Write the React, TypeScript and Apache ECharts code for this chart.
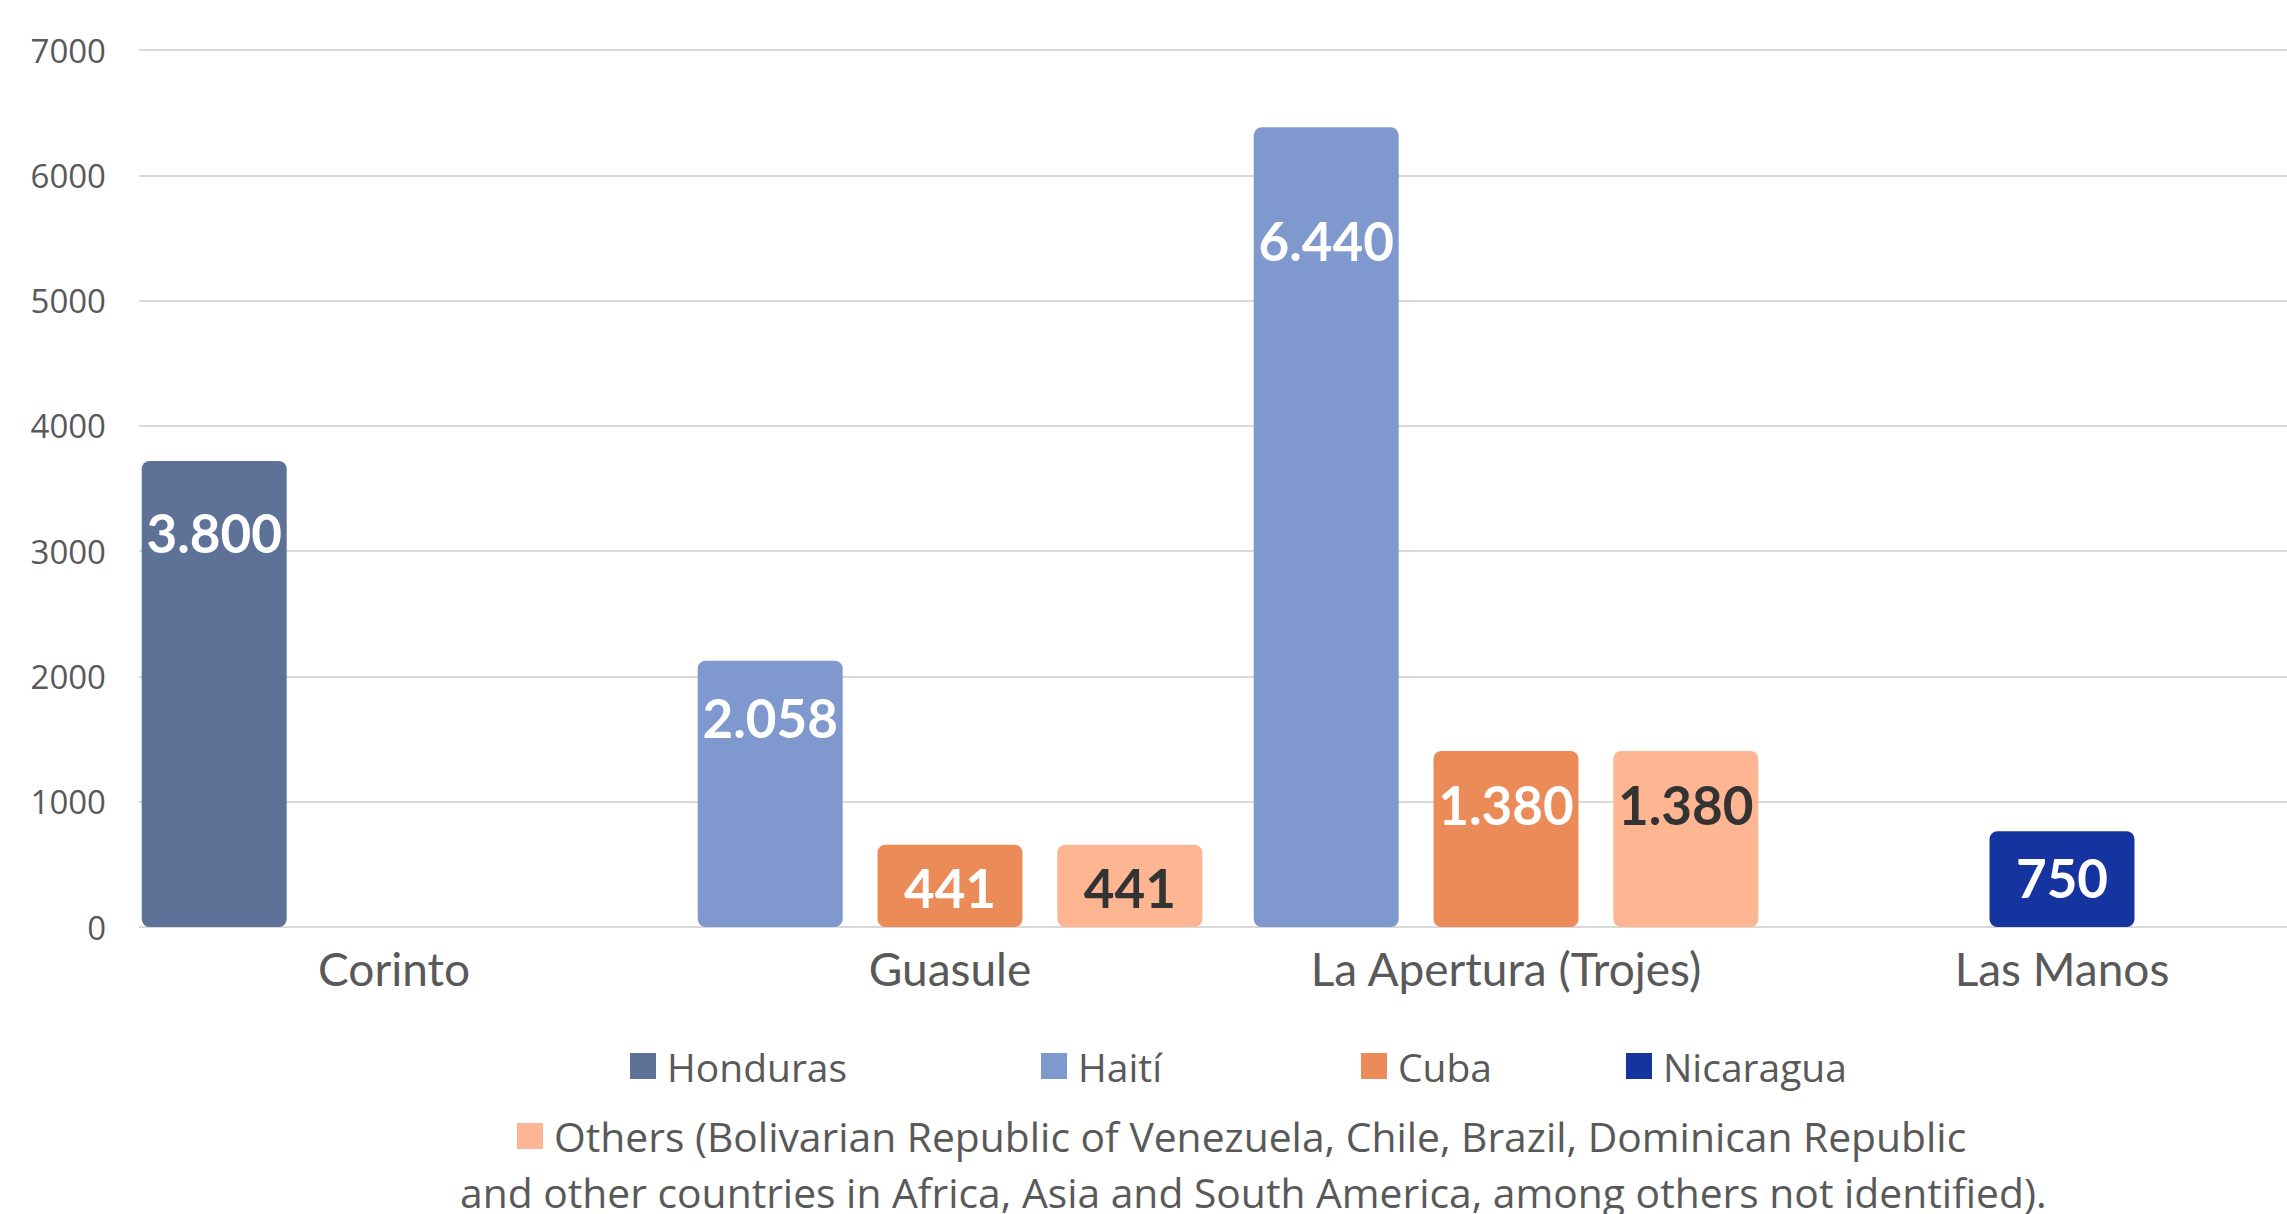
import React, { useEffect, useRef } from "react";
import * as echarts from "echarts";

// ---------- data ----------
const categories = ["Corinto", "Guasule", "La Apertura (Trojes)", "Las Manos"];

// bar heights as drawn in the picture
const hondurasValues = [3720, null, null, null];
const haitiValues = [null, 2125, 6383, null];
const cubaValues = [null, 657, 1405, null];
const nicaraguaValues = [null, null, null, 765];
const othersValues = [null, 657, 1405, null];

// data labels printed on the bars
const hondurasLabels = [3800, null, null, null];
const haitiLabels = [null, 2058, 6440, null];
const cubaLabels = [null, 441, 1380, null];
const nicaraguaLabels = [null, null, null, 750];
const othersLabels = [null, 441, 1380, null];

const yMin = 0;
const yMax = 7000;
const yInterval = 1000;

const seriesNames = [
  "Honduras",
  "Haití",
  "Cuba",
  "Nicaragua",
  "Others (Bolivarian Republic of Venezuela, Chile, Brazil, Dominican Republic\nand other countries in Africa, Asia and South America, among others not identified).",
];

// ---------- styles ----------
const colors = ["#5E7298", "#7F99CE", "#EB8B58", "#1534A0", "#FDB592"];
const labelColors = ["#FFFFFF", "#FFFFFF", "#FFFFFF", "#FFFFFF", "#333333"];
const stacks = ["A", "A", "B", "B", "C"];
// distance of label from bar top (px), per series per category
const labelDistances = [
  [45, 0, 0, 0],
  [0, 30, 87, 0],
  [0, 16, 27, 0],
  [0, 0, 0, 20],
  [0, 16, 27, 0],
];
const legendPos = [
  { left: 625, top: 1038 },
  { left: 1036, top: 1038 },
  { left: 1356, top: 1038 },
  { left: 1621, top: 1038 },
  { left: 512, top: 1108 },
];
const legendFontSizes = [39, 39, 39, 39, 40.8];

const CANVAS_W = 2400; // chart canvas is wider than the page; the page clips it
const CANVAS_H = 1214;

const fmt = (n: number) => String(n).replace(/\B(?=(\d{3})+(?!\d))/g, ".");

export default function App() {
  const ref = useRef<HTMLDivElement>(null);
  useEffect(() => {
    if (!ref.current) return;
    const chart = echarts.init(ref.current, null, { renderer: "svg" });
    const values = [hondurasValues, haitiValues, cubaValues, nicaraguaValues, othersValues];
    const labels = [hondurasLabels, haitiLabels, cubaLabels, nicaraguaLabels, othersLabels];

    const series = seriesNames.map((name, si) => ({
      name,
      type: "bar",
      xAxisIndex: 1,
      yAxisIndex: 1,
      stack: stacks[si],
      barWidth: 145,
      barGap: "24%",
      itemStyle: { color: colors[si], borderRadius: 8 },
      label: {
        show: true,
        position: "insideTop",
        fontFamily: "Lato",
        fontWeight: "bold",
        fontSize: 53,
        color: labelColors[si],
        formatter: (p: any) => {
          const v = labels[si][p.dataIndex];
          return v == null ? "" : fmt(v);
        },
      },
      data: values[si].map((v, ci) =>
        v == null ? null : { value: v, label: { distance: labelDistances[si][ci] } }
      ),
    }));

    const legends = seriesNames.map((name, si) => ({
      data: [name],
      left: legendPos[si].left,
      top: legendPos[si].top,
      icon: "rect",
      itemWidth: 26,
      itemHeight: 26,
      selectedMode: false,
      formatter: (n: string) => n.split("\n")[0],
      textStyle: {
        fontFamily: "Open Sans",
        fontSize: legendFontSizes[si],
        lineHeight: 46,
        color: "#595959",
        padding: [0, 0, 0, 6],
      },
    }));

    chart.setOption({
      animation: false,
      backgroundColor: "#FFFFFF",
      grid: [
        { left: 139, right: CANVAS_W - 2287, top: 50, bottom: 287 },
        { left: 116, right: CANVAS_W - 2340, top: 50, bottom: 287 },
      ],
      xAxis: [
        { type: "value", gridIndex: 0, min: 0, max: 1, show: false },
        {
          type: "category",
          gridIndex: 1,
          data: categories,
          axisLine: { show: false },
          axisTick: { show: false },
          axisLabel: {
            fontFamily: "Lato",
            fontSize: 46,
            color: "#595959",
            margin: 18,
          },
        },
      ],
      yAxis: [
        {
          type: "value",
          gridIndex: 0,
          min: yMin,
          max: yMax,
          interval: yInterval,
          axisLine: { show: false },
          axisTick: { show: false },
          axisLabel: {
            fontFamily: "Open Sans",
            fontSize: 33,
            color: "#595959",
            margin: 33,
            formatter: (v: number) => String(v),
          },
          splitLine: { lineStyle: { color: "#D9D9D9", width: 2 } },
        },
        {
          type: "value",
          gridIndex: 1,
          min: yMin,
          max: yMax,
          interval: yInterval,
          show: false,
          splitLine: { show: false },
        },
      ],
      legend: legends,
      graphic: [
        {
          type: "text",
          left: 460,
          top: 1170,
          style: {
            text: seriesNames[4].split("\n")[1],
            fontFamily: "Open Sans",
            fontSize: 40.8,
            lineHeight: 44,
            fill: "#595959",
          },
        },
      ],
      series,
    });
    return () => chart.dispose();
  }, []);
  return (
    <div
      style={{
        position: "fixed",
        left: 0,
        top: 0,
        width: 2287,
        height: CANVAS_H,
        overflow: "hidden",
        background: "#FFFFFF",
      }}
    >
      <div ref={ref} style={{ width: CANVAS_W, height: CANVAS_H }} />
    </div>
  );
}
